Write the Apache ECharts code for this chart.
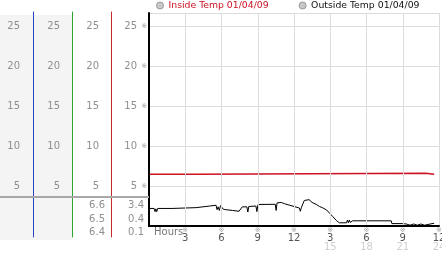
<!DOCTYPE html>
<html><head><meta charset="utf-8">
<script src="https://cdn.jsdelivr.net/npm/echarts@6/dist/echarts.min.js"></script>
<style>html,body{margin:0;padding:0;background:#fff}#c{width:442px;height:253px}</style>
</head><body><div id="c"></div>
<script>
const legendNames = ['Inside Temp 01/04/09', 'Outside Temp 01/04/09'];
const hourTicks = ['3', '6', '9', '12', '3', '6', '9', '12'];
const hourTicks24 = ['', '', '', '', '15', '18', '21', '24'];
const lowRedLabels = ['6.6', '6.5', '6.4'];
const lowBlackLabels = ['3.4', '0.4', '0.1'];
const insideHours = [0, 3.85, 22.9, 23.6];
const insideTemps = [6.5, 6.6, 6.5, 6.5];
const outsideHours = [0.00, 0.42, 0.50, 0.56, 0.64, 0.72, 1.90, 2.05, 3.90, 4.05, 5.00, 5.55, 5.63, 5.72, 5.82, 5.92, 6.02, 6.15, 6.35, 6.90, 7.45, 7.72, 8.10, 8.18, 8.26, 8.85, 8.93, 9.02, 10.45, 10.52, 10.60, 10.95, 11.20, 11.60, 12.00, 12.45, 12.52, 12.62, 12.85, 13.00, 13.25, 13.50, 13.85, 14.10, 14.35, 14.70, 14.95, 15.20, 15.50, 15.75, 16.35, 16.42, 16.50, 16.58, 16.66, 16.75, 16.85, 20.05, 20.10, 20.95, 21.00, 21.30, 21.60, 21.90, 22.20, 22.50, 22.80, 22.85, 23.60];
const outsideTemps = [2.20, 2.20, 1.80, 2.15, 1.80, 2.20, 2.20, 2.35, 2.30, 2.40, 2.50, 2.60, 2.05, 2.40, 1.95, 2.55, 2.60, 2.10, 2.05, 1.95, 1.85, 2.40, 2.40, 1.75, 2.45, 2.50, 1.80, 2.70, 2.72, 1.95, 2.90, 2.95, 2.80, 2.62, 2.45, 2.25, 1.85, 2.35, 3.20, 3.40, 3.30, 2.95, 2.70, 2.45, 2.30, 2.00, 1.60, 1.20, 0.70, 0.40, 0.40, 0.75, 0.40, 0.75, 0.45, 0.70, 0.65, 0.65, 0.30, 0.30, 0.15, 0.25, 0.10, 0.25, 0.10, 0.25, 0.10, 0.35, 0.35];

const FONT = 'DejaVu Sans';
const GRAY = '#8f8f8f';
const RED = '#cc1122';
const mainScale = { type: 'value', min: 0, max: 26.7, interval: 5 };
const tickText = v => (v > 0 && Math.abs(v % 5) < 1e-9) ? String(v) : '';

function labelAxis(offset, margin) {
  return Object.assign({}, mainScale, {
    gridIndex: 0, position: 'left', offset: offset, z: 10,
    axisLine: { show: false, onZero: false }, axisTick: { show: false }, splitLine: { show: false },
    axisLabel: { margin: margin, color: GRAY, fontSize: 10, fontFamily: FONT, showMaxLabel: false,
      formatter: tickText }
  });
}
function lineAxis(offset, color) {
  return { gridIndex: 1, type: 'value', min: 0, max: 1, position: 'left', offset: offset, z: 10,
    axisLine: { show: true, onZero: false, lineStyle: { color: color, width: 1 } },
    axisTick: { show: false }, axisLabel: { show: false }, splitLine: { show: false } };
}
function lowAxis(data, offset, margin) {
  return { gridIndex: 2, type: 'category', inverse: true, data: data, position: 'left', offset: offset, z: 10,
    axisLine: { show: false, onZero: false }, axisTick: { show: false }, splitLine: { show: false },
    axisLabel: { margin: margin, color: GRAY, fontSize: 10, fontFamily: FONT } };
}

const chart = echarts.init(document.getElementById('c'));
chart.setOption({
  animation: false,
  backgroundColor: '#fff',
  legend: {
    left: 156, top: 1, padding: 0, itemWidth: 7, itemHeight: 7, itemGap: 30, icon: 'circle',
    itemStyle: { color: '#c8c8c8', borderColor: '#999', borderWidth: 1 },
    textStyle: { fontFamily: FONT, fontSize: 9.3 },
    selectedMode: false,
    data: [
      { name: legendNames[0], textStyle: { color: RED } },
      { name: legendNames[1], textStyle: { color: '#111' } }
    ]
  },
  grid: [
    { left: 149, top: 13, width: 290, height: 213, containLabel: false, outerBoundsMode: 'none' },
    { left: 149, top: 12, width: 290, height: 225, containLabel: false, outerBoundsMode: 'none' },
    { left: 149, top: 199, width: 290, height: 40.5, containLabel: false, outerBoundsMode: 'none' },
    { left: 0, top: 15, width: 72, height: 225, show: true, backgroundColor: '#f4f4f4', borderWidth: 0, z: -5,
      containLabel: false, outerBoundsMode: 'none' }
  ],
  xAxis: [
    { gridIndex: 0, type: 'value', min: 0, max: 24, interval: 3, z: 10,
      axisLine: { show: true, onZero: false, lineStyle: { color: '#000', width: 2 } },
      axisTick: { show: false },
      splitLine: { show: true, lineStyle: { color: '#dcdcdc', width: 1 } },
      axisLabel: {
        margin: 1, fontFamily: FONT,
        formatter: v => {
          if (v === 0) return '';
          const i = Math.round(v / 3) - 1;
          return '{m|※}\n{a|' + hourTicks[i] + '}' + (hourTicks24[i] ? '\n{b|' + hourTicks24[i] + '}' : '');
        },
        rich: {
          m: { fontSize: 7, color: '#a0a0a0', lineHeight: 7, fontFamily: FONT },
          a: { fontSize: 10, color: '#555', lineHeight: 9, fontFamily: FONT },
          b: { fontSize: 10, color: '#cfcfcf', lineHeight: 9, fontFamily: FONT }
        }
      } },
    { gridIndex: 1, type: 'value', show: false },
    { gridIndex: 2, type: 'value', show: false },
    { gridIndex: 3, type: 'value', show: false }
  ],
  yAxis: [
    Object.assign({}, mainScale, {
      gridIndex: 0, position: 'left', offset: 0, z: 10,
      axisLine: { show: true, onZero: false, lineStyle: { color: '#000', width: 2 } },
      axisTick: { show: false },
      splitLine: { show: true, lineStyle: { color: '#dcdcdc', width: 1 } },
      axisLabel: { margin: 12, color: GRAY, fontSize: 10, fontFamily: FONT, showMaxLabel: false,
        formatter: tickText }
    }),
    Object.assign({}, mainScale, {
      gridIndex: 0, position: 'left', offset: 0, z: 10,
      axisLine: { show: false, onZero: false }, axisTick: { show: false }, splitLine: { show: false },
      axisLabel: { margin: 2, color: '#a0a0a0', fontSize: 7, fontFamily: FONT, showMaxLabel: false,
        formatter: v => tickText(v) ? '※' : '' }
    }),
    labelAxis(116, 13),
    labelAxis(77, 12),
    labelAxis(38, 12),
    lineAxis(116, '#2348c0'),
    lineAxis(77, '#2fa52f'),
    lineAxis(38, '#c42a2a'),
    lowAxis(lowRedLabels, 38, 6),
    lowAxis(lowBlackLabels, 0, 5),
    { gridIndex: 3, type: 'value', show: false }
  ],
  graphic: {
    elements: [
      { type: 'rect', z: 100, shape: { x: 0, y: 196, width: 149, height: 2 }, style: { fill: '#a8a8a8' } },
      { type: 'text', z: 100, left: 154, top: 227, style: { text: 'Hours', fontSize: 10, fontFamily: FONT, fill: '#777' } }
    ]
  },
  series: [
    { name: legendNames[0], type: 'line', xAxisIndex: 0, yAxisIndex: 0, step: 'end', symbol: 'none', silent: true,
      data: insideHours.map((h, i) => [h, insideTemps[i]]),
      lineStyle: { color: RED, width: 1.5 }, itemStyle: { color: RED } },
    { name: legendNames[1], type: 'line', xAxisIndex: 0, yAxisIndex: 0, symbol: 'none', silent: true,
      data: outsideHours.map((h, i) => [h, outsideTemps[i]]),
      lineStyle: { color: '#000', width: 1 }, itemStyle: { color: '#000' } }
  ]
});
</script>
</body></html>
